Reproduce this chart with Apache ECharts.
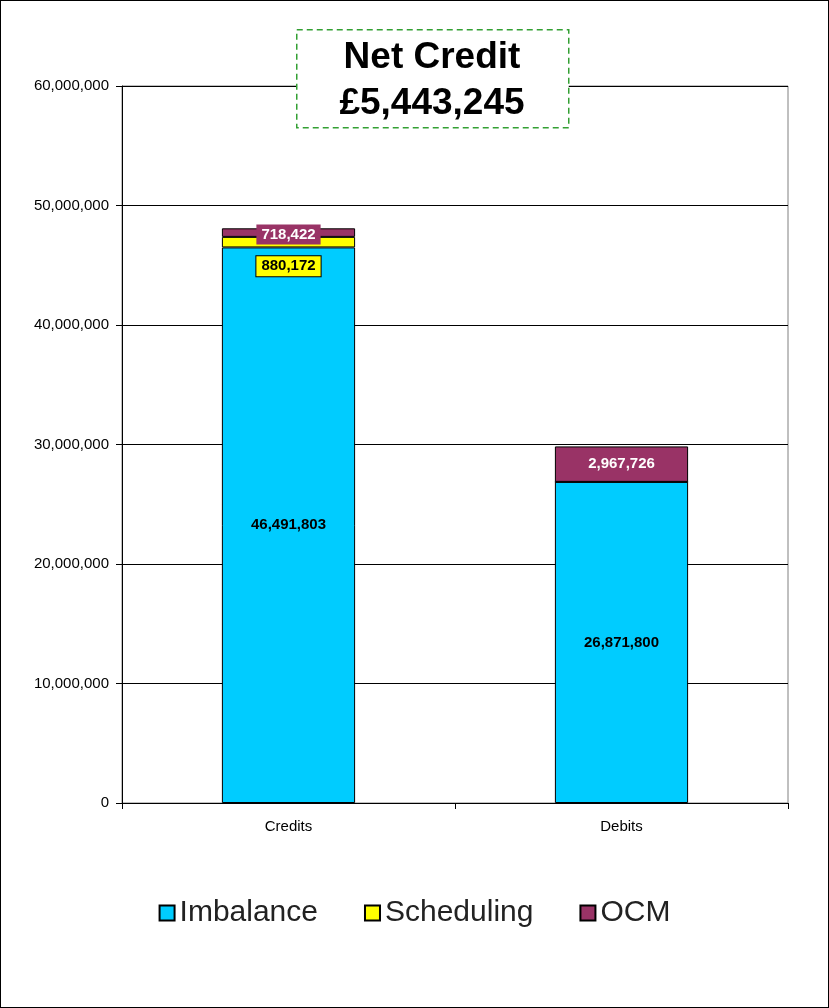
<!DOCTYPE html>
<html>
<head>
<meta charset="utf-8">
<script src="https://cdn.jsdelivr.net/npm/echarts@6/dist/echarts.min.js"></script>
<style>
  html, body { margin: 0; padding: 0; background: #fff; }
  #main { width: 827px; height: 1006px; border: 1px solid #000; }
</style>
</head>
<body>
<div id="main"></div>
<script>
// chart data
var categories = ['Credits', 'Debits']
var imbalance = [46491803, 26871800]
var scheduling = [880172, 0]
var ocm = [718422, 2967726]
var netCredit = '£5,443,245'

var fmt = function (v) { return Number(v).toLocaleString('en-US') }

var chart = echarts.init(document.getElementById('main'))

// per-bar labels for the small segments
var schedulingData = scheduling.map(function (v) {
  if (!v) return { value: v, label: { show: false } }
  return {
    value: v,
    label: {
      show: true,
      position: 'inside',
      offset: [0, 24],
      backgroundColor: '#FFFF00',
      borderColor: '#000',
      borderWidth: 1,
      padding: [3, 5, 2, 5]
    }
  }
})
var ocmData = ocm.map(function (v, i) {
  return {
    value: v,
    label: {
      show: true,
      position: 'inside',
      offset: i === 0 ? [0, 2] : [0, 0],
      color: '#fff',
      backgroundColor: i === 0 ? '#993366' : 'transparent',
      padding: [3, 5, 2, 5]
    }
  }
})

var labelBase = {
  fontFamily: 'Liberation Sans, Arial',
  fontWeight: 'bold',
  fontSize: 15,
  color: '#000',
  formatter: function (p) { return fmt(p.value) }
}

chart.setOption({
  animation: false,
  textStyle: { fontFamily: 'Liberation Sans, Arial' },
  grid: {
    left: 121, right: 40, top: 85, bottom: 204,
    show: true, borderColor: '#808080', borderWidth: 1
  },
  legend: {
    bottom: 74,
    left: 'center',
    icon: 'rect',
    itemWidth: 15,
    itemHeight: 15,
    itemGap: 46,
    textStyle: { fontSize: 30, color: '#222', fontFamily: 'Liberation Sans, Arial' },
    data: ['Imbalance', 'Scheduling', 'OCM']
  },
  xAxis: {
    type: 'category',
    data: categories,
    axisLine: { lineStyle: { color: '#000' } },
    axisTick: { show: true, length: 6, lineStyle: { color: '#000' } },
    axisLabel: { color: '#000', fontSize: 15, margin: 16 }
  },
  yAxis: {
    type: 'value',
    min: 0,
    max: 60000000,
    interval: 10000000,
    axisLine: { show: true, lineStyle: { color: '#000' } },
    axisTick: { show: true, length: 6, lineStyle: { color: '#000' } },
    axisLabel: { color: '#000', fontSize: 15, margin: 13, formatter: fmt },
    splitLine: { lineStyle: { color: '#000' } }
  },
  series: [
    {
      name: 'Imbalance',
      type: 'bar',
      stack: 'total',
      barWidth: '40%',
      data: imbalance,
      itemStyle: { color: '#00CCFF', borderColor: '#000', borderWidth: 1 },
      label: Object.assign({ show: true, position: 'inside' }, labelBase)
    },
    {
      name: 'Scheduling',
      type: 'bar',
      stack: 'total',
      data: schedulingData,
      itemStyle: { color: '#FFFF00', borderColor: '#000', borderWidth: 1 },
      label: labelBase
    },
    {
      name: 'OCM',
      type: 'bar',
      stack: 'total',
      data: ocmData,
      itemStyle: { color: '#993366', borderColor: '#000', borderWidth: 1 },
      label: Object.assign({}, labelBase, { color: '#fff' })
    }
  ],
  graphic: [
    {
      type: 'rect',
      left: 295,
      top: 28,
      shape: { width: 272, height: 98 },
      style: { fill: '#fff', stroke: '#33A033', lineWidth: 1.5, lineDash: [6, 4] },
      z: 10
    },
    {
      type: 'text',
      x: 431,
      y: 34,
      style: {
        text: 'Net Credit\n' + netCredit,
        textAlign: 'center',
        fontSize: 37,
        lineHeight: 46,
        fontWeight: 'bold',
        fontFamily: 'Liberation Sans, Arial',
        fill: '#000'
      },
      z: 11
    }
  ]
})
</script>
</body>
</html>
